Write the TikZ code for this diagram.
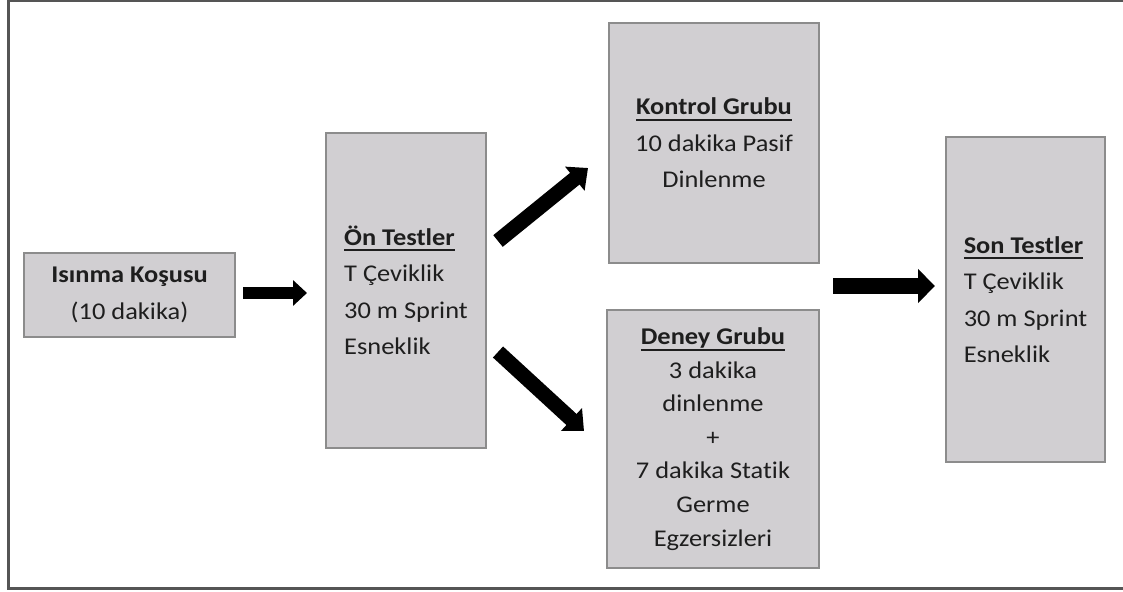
\documentclass[tikz,border=0pt]{standalone}
\usepackage{fontspec}
\setmainfont{Carlito}[FakeStretch=1.1, Ligatures=NoCommon]
\usetikzlibrary{arrows.meta}

\definecolor{boxfill}{RGB}{209,207,210}
\definecolor{boxline}{RGB}{140,140,140}
\definecolor{inkcol}{RGB}{30,30,30}
\definecolor{framecol}{RGB}{85,85,85}

% bold title with a thick rule under it
\newcommand\titleul[1]{\setbox0\hbox{\bfseries #1}\rlap{\rule[-6pt]{\wd0}{2pt}}\box0}

\tikzset{
  stagebox/.style={draw=boxline, line width=1.5pt, fill=boxfill, inner sep=0pt,
    text=inkcol, font=\fontsize{24}{36.5}\selectfont},
  blockarrow/.style={line width=#1, draw=black, line cap=butt},
}

\begin{document}
\begin{tikzpicture}[x=1pt, y=-1pt]
\useasboundingbox (0,0) rectangle (1123,591);
% outer frame, open at the right side
\draw[framecol, line width=2.5pt] (8.7,0.8) rectangle (1135,588.6);

\node[stagebox, minimum width=211pt, minimum height=84pt, align=center]
  (warm) at (129.5,295) {\textbf{Isınma Koşusu}\\(10 dakika)};
\node[stagebox, minimum width=160pt, minimum height=315pt, align=left]
  (pre) at (406,290.5) {\titleul{Ön Testler}\\T Çeviklik\\30 m Sprint\\Esneklik};
\node[stagebox, minimum width=210pt, minimum height=240pt, align=center]
  (ctrl) at (714,143) {\titleul{Kontrol Grubu}\\10 dakika Pasif\\Dinlenme};
\node[stagebox, minimum width=212pt, minimum height=258pt, align=center,
  font=\fontsize{24}{33.6}\selectfont]
  (exp) at (713,439) {\titleul{Deney Grubu}\\3 dakika\\dinlenme\\+\\7 dakika Statik\\Germe\\Egzersizleri};
\node[stagebox, minimum width=159pt, minimum height=325pt, align=left]
  (post) at (1025.5,299.5) {\titleul{Son Testler}\\T Çeviklik\\30 m Sprint\\Esneklik};

% arrow end points in the gaps between the boxes
\coordinate (a1s) at (243,293);   \coordinate (a1e) at (307,293);
\coordinate (a2s) at (498,241);   \coordinate (a2e) at (588,168);
\coordinate (a3s) at (498,352);   \coordinate (a3e) at (584,431);
\coordinate (a4s) at (833,286);   \coordinate (a4e) at (935,286);

\draw[blockarrow=12.7pt, -{Triangle[width=25pt,length=14pt]}] (a1s) -- (a1e);
\draw[blockarrow=15pt, -{Triangle[width=30pt,length=17pt]}] (a2s) -- (a2e);
\draw[blockarrow=15pt, -{Triangle[width=30pt,length=17pt]}] (a3s) -- (a3e);
\draw[blockarrow=16pt, -{Triangle[width=33pt,length=17pt]}] (a4s) -- (a4e);
\end{tikzpicture}
\end{document}
